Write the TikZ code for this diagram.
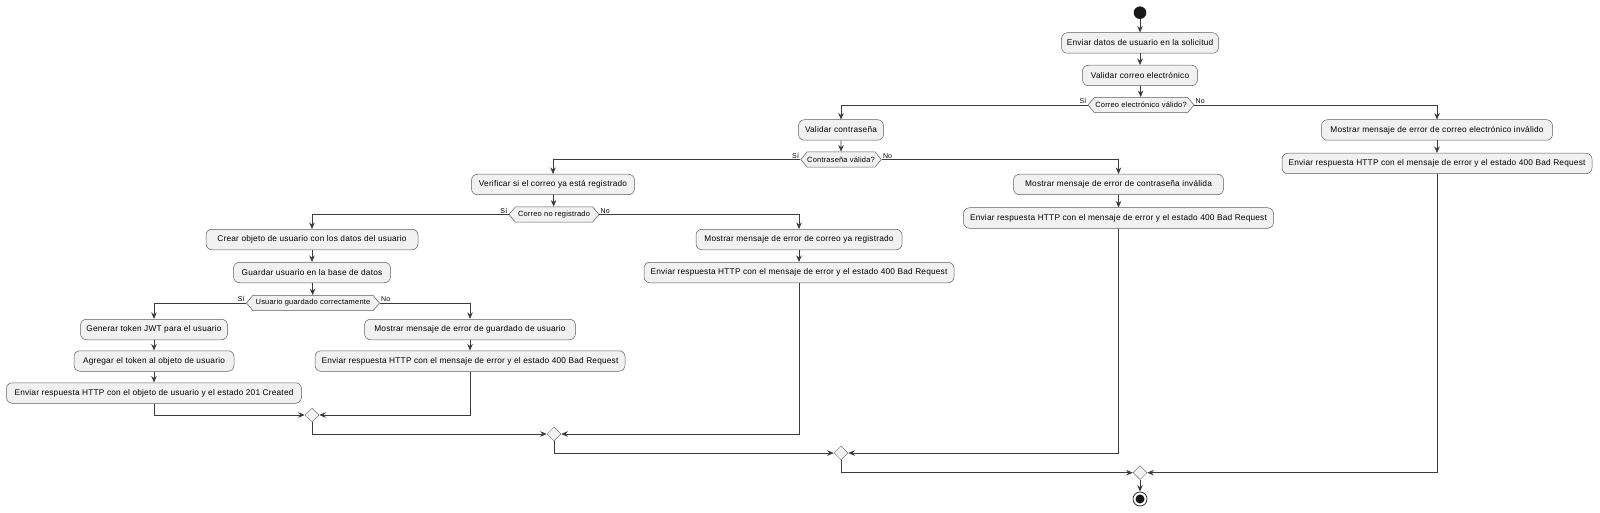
\documentclass[tikz,border=0pt]{standalone}
\usepackage{fontspec}
\setmainfont[LetterSpace=2.5]{Liberation Sans}
\usetikzlibrary{arrows.meta, shapes.symbols, shapes.geometric}

\definecolor{boxfill}{HTML}{F1F1F1}
\definecolor{ink}{HTML}{181818}

\begin{document}
\begin{tikzpicture}[x=1pt, y=-1pt,
    act/.style={draw=ink!70, line width=0.5pt, fill=boxfill, rounded corners=6pt,
        minimum height=20.5pt, inner sep=0pt, font=\fontsize{8.3}{10}\selectfont},
    cond/.style={signal, signal to=east and west, signal pointer angle=100,
        draw=ink!70, line width=0.5pt, fill=boxfill, minimum height=15.4pt,
        inner sep=0pt, font=\fontsize{7.5}{9}\selectfont},
    merge/.style={diamond, draw=ink!60, line width=0.5pt, fill=boxfill,
        minimum size=14pt, inner sep=0pt},
    flow/.style={draw=ink!85, line width=0.8pt, -{Stealth[length=6.5pt, width=5.5pt]}},
    lbl/.style={font=\fontsize{7}{8}\selectfont, inner sep=1pt}]
\useasboundingbox (0,0) rectangle (1600,513);

% start and email check
\node[circle, fill=ink, minimum size=12.6pt, inner sep=0pt] (S) at (1140,12.7) {};
\node[act, minimum width=157pt] (A1) at (1140,43) {Enviar datos de usuario en la solicitud};
\node[act, minimum width=115pt] (A2) at (1140,75.5) {Validar correo electrónico};
\node[cond, minimum width=106pt] (D1) at (1141,105) {Correo electrónico válido?};

% password check
\node[act, minimum width=85pt] (A3) at (841,130) {Validar contraseña};
\node[cond, minimum width=79pt] (D2) at (841,159.5) {Contraseña válida?};
\node[act, minimum width=231pt] (A4) at (1437,130) {Mostrar mensaje de error de correo electrónico inválido};
\node[act, minimum width=310pt] (A5) at (1437,163.5) {Enviar respuesta HTTP con el mensaje de error y el estado 400 Bad Request};

% already registered?
\node[act, minimum width=163pt] (A6) at (553,184.5) {Verificar si el correo ya está registrado};
\node[cond, minimum width=90pt] (D3) at (554,214.5) {Correo no registrado};
\node[act, minimum width=210pt] (A7) at (1118.5,184.5) {Mostrar mensaje de error de contraseña inválida};
\node[act, minimum width=310pt] (A8) at (1118.5,218) {Enviar respuesta HTTP con el mensaje de error y el estado 400 Bad Request};

% save user
\node[act, minimum width=212pt] (A9) at (312,239.5) {Crear objeto de usuario con los datos del usuario};
\node[act, minimum width=157pt] (A10) at (312,272.5) {Guardar usuario en la base de datos};
\node[cond, minimum width=133pt] (D4) at (313,303) {Usuario guardado correctamente};
\node[act, minimum width=206pt] (A11) at (799,239.5) {Mostrar mensaje de error de correo ya registrado};
\node[act, minimum width=310pt] (A12) at (799,272.5) {Enviar respuesta HTTP con el mensaje de error y el estado 400 Bad Request};

% token and responses
\node[act, minimum width=147pt] (A13) at (154,329.5) {Generar token JWT para el usuario};
\node[act, minimum width=160pt] (A14) at (154,361) {Agregar el token al objeto de usuario};
\node[act, minimum width=295pt] (A15) at (154,393) {Enviar respuesta HTTP con el objeto de usuario y el estado 201 Created};
\node[act, minimum width=211pt] (A16) at (470,329.5) {Mostrar mensaje de error de guardado de usuario};
\node[act, minimum width=310pt] (A17) at (470,361) {Enviar respuesta HTTP con el mensaje de error y el estado 400 Bad Request};

% merges and end
\node[merge] (M1) at (312,415) {};
\node[merge] (M2) at (554,434) {};
\node[merge] (M3) at (841,453) {};
\node[merge] (M4) at (1140,472.7) {};
\node[circle, draw=ink, line width=0.7pt, minimum size=14pt, inner sep=0pt] (F) at (1140,499) {};
\node[circle, fill=ink, minimum size=9pt, inner sep=0pt] (F0) at (F) {};

% straight steps
\draw[flow] (S) -- (A1);
\draw[flow] (A1) -- (A2);
\draw[flow] (A2) -- (D1);
\draw[flow] (A3) -- (D2);
\draw[flow] (A4) -- (A5);
\draw[flow] (A6) -- (D3);
\draw[flow] (A7) -- (A8);
\draw[flow] (A9) -- (A10);
\draw[flow] (A10) -- (D4);
\draw[flow] (A11) -- (A12);
\draw[flow] (A13) -- (A14);
\draw[flow] (A14) -- (A15);
\draw[flow] (A16) -- (A17);
\draw[flow] (M4) -- (F);

% branches
\draw[flow] (D1.west) node[lbl, above left] {Sí} -| (A3.north);
\draw[flow] (D1.east) node[lbl, above right] {No} -| (A4.north);
\draw[flow] (D2.west) node[lbl, above left] {Sí} -| (A6.north);
\draw[flow] (D2.east) node[lbl, above right] {No} -| (A7.north);
\draw[flow] (D3.west) node[lbl, above left] {Sí} -| (A9.north);
\draw[flow] (D3.east) node[lbl, above right] {No} -| (A11.north);
\draw[flow] (D4.west) node[lbl, above left] {Sí} -| (A13.north);
\draw[flow] (D4.east) node[lbl, above right] {No} -| (A16.north);

% joins
\draw[flow] (A15.south) |- (M1.west);
\draw[flow] (A17.south) |- (M1.east);
\draw[flow] (M1.south) |- (M2.west);
\draw[flow] (A12.south) |- (M2.east);
\draw[flow] (M2.south) |- (M3.west);
\draw[flow] (A8.south) |- (M3.east);
\draw[flow] (M3.south) |- (M4.west);
\draw[flow] (A5.south) |- (M4.east);
\end{tikzpicture}
\end{document}
